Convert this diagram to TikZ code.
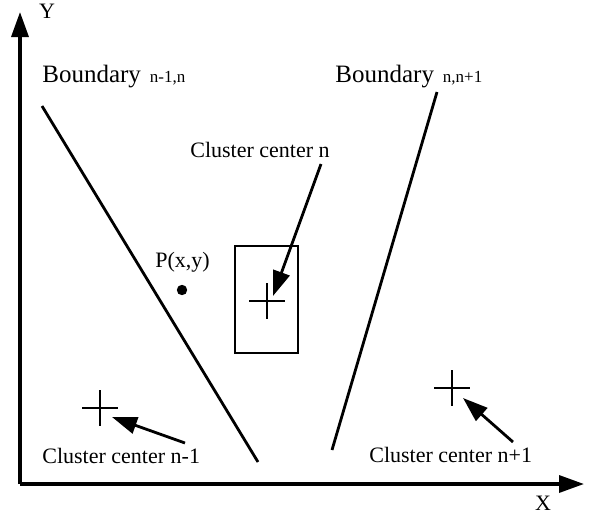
\documentclass[tikz,border=0pt]{standalone}
\usepackage{fontspec}
\setmainfont{Liberation Serif}
\usetikzlibrary{arrows.meta}

\begin{document}
\begin{tikzpicture}[x=0.5pt, y=-0.5pt, >={Triangle[length=12.5pt,width=8.5pt]},
    font=\fontsize{11}{13}\selectfont,
    lbl/.style={inner sep=0pt, anchor=base west},
    thk/.style={line width=1.4pt}]
  \useasboundingbox (0,0) rectangle (590,515);
  % Axes
  \coordinate (origin) at (20,484);
  \coordinate (xend) at (584,484);
  \coordinate (yend) at (20,12);
  \draw[->, line width=1.7pt] (origin) -- (xend);
  \draw[->, line width=1.7pt] (origin) -- (yend);
  \node[inner sep=0pt, anchor=base] (xlab) at (543,510) {X};
  \node[inner sep=0pt, anchor=base] (ylab) at (47,18) {Y};
  % Boundaries between clusters
  \node[lbl, font=\fontsize{12.5}{15}\selectfont] (bndL) at (42,82)
    {Boundary\hspace{4.5pt}{\fontsize{8.5}{10}\selectfont n-1,n}};
  \node[lbl, font=\fontsize{12.5}{15}\selectfont] (bndR) at (335,82)
    {Boundary\hspace{4.5pt}{\fontsize{8.5}{10}\selectfont n,n+1}};
  \coordinate (bndLtop) at (42,106);
  \coordinate (bndLbot) at (258,462);
  \coordinate (bndRtop) at (437,92);
  \coordinate (bndRbot) at (332,450);
  \draw[thk] (bndLtop) -- (bndLbot);
  \draw[thk] (bndRtop) -- (bndRbot);
  % Point P
  \node[lbl] (ptxt) at (155,267) {P(x,y)};
  \fill (182,290) circle (2.6pt) coordinate (pt);
  % Cluster centres
  \coordinate (ctrA) at (100,408);
  \coordinate (ctrN) at (267,301);
  \coordinate (ctrB) at (452,388);
  \foreach \c in {ctrA,ctrN,ctrB}
    \draw[thk] (\c) ++(-18,0) -- ++(36,0) (\c) ++(0,-18) -- ++(0,36);
  \draw[thk] (235,246) rectangle (298,353);
  % Labels and arrows
  \node[lbl] (ctrNtxt) at (190,157) {Cluster center n};
  \node[lbl] (ctrAtxt) at (42,463) {Cluster center n-1};
  \node[lbl] (ctrBtxt) at (369,462) {Cluster center n+1};
  \coordinate (ctrNtail) at (321,164);
  \coordinate (ctrNtip) at (273,296);
  \coordinate (ctrAtail) at (185,443);
  \coordinate (ctrAtip) at (112,417);
  \coordinate (ctrBtail) at (513,442);
  \coordinate (ctrBtip) at (463,398);
  \draw[->, thk] (ctrNtail) -- (ctrNtip);
  \draw[->, thk] (ctrAtail) -- (ctrAtip);
  \draw[->, thk] (ctrBtail) -- (ctrBtip);
\end{tikzpicture}
\end{document}
